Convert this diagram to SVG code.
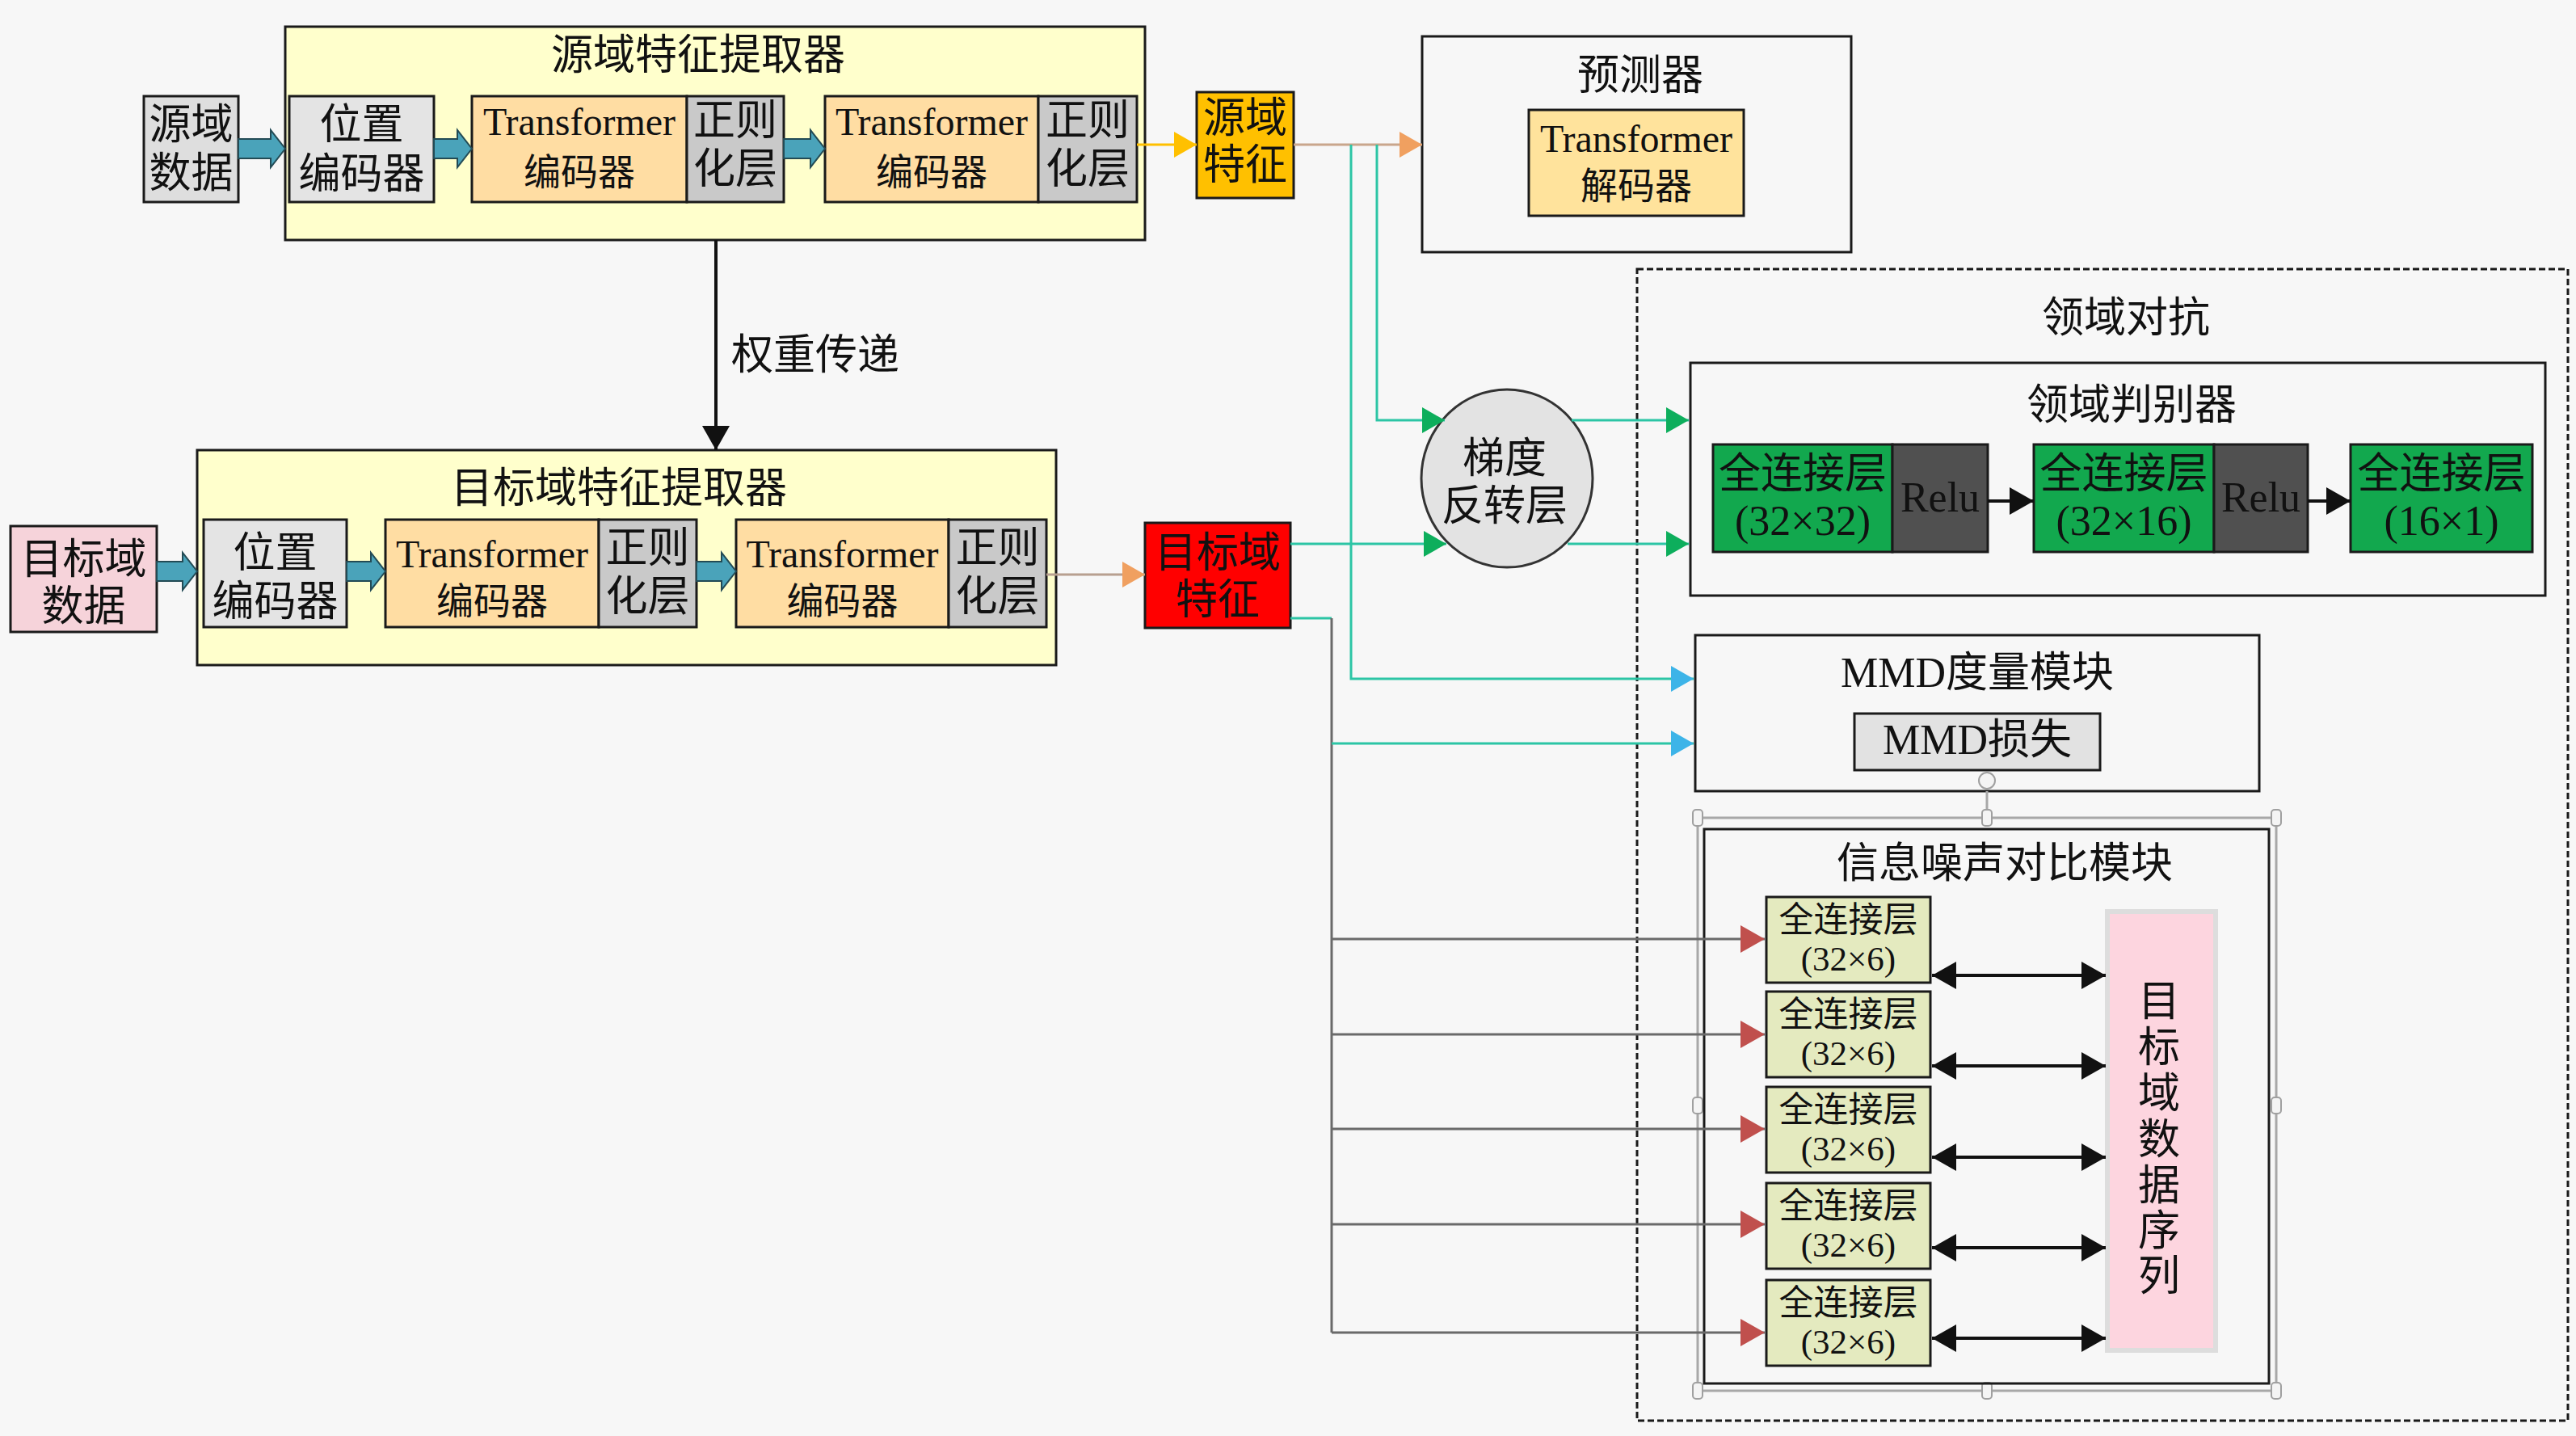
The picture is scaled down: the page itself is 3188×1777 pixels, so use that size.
<svg xmlns="http://www.w3.org/2000/svg" width="3188" height="1777" viewBox="0 0 3188 1777">
<style>
text{font-family:"Liberation Serif","Noto Sans CJK SC",serif;fill:#111;text-anchor:middle}
.f52{font-size:52px}
.f48{font-size:48px}
.f46{font-size:46px}
.f44{font-size:43px}
.box{stroke:#1a1a1a;stroke-width:3}
.panel{fill:#FFFFCC;stroke:#1a1a1a;stroke-width:3}
.grey{fill:#DEDEDE}
.pos{fill:#E4E4E4}
.norm{fill:#C9C9C9}
.enc{fill:#FFDDA3}
.green{fill:#12A84E}
.relu{fill:#505050}
.fc{fill:#E4EABF}
.frame{fill:none;stroke:#1a1a1a;stroke-width:3}
.mint{fill:none;stroke:#2CC5A5;stroke-width:3}
.gline{fill:none;stroke:#6A6A6A;stroke-width:3}
.blk{fill:none;stroke:#111;stroke-width:4}
.block{fill:#4AA3BA;stroke:#234B55;stroke-width:2}
.sel{fill:none;stroke:#A8A8A8;stroke-width:3}
.hdl{fill:#F4F4F4;stroke:#A0A0A0;stroke-width:2}
</style>
<defs>
<marker id="mGreen" markerUnits="userSpaceOnUse" markerWidth="28" markerHeight="32" viewBox="0 0 28 32" refX="28" refY="16" orient="auto"><path d="M0,0 L28,16 L0,32 z" fill="#0DAE5C"/></marker>
<marker id="mBlue" markerUnits="userSpaceOnUse" markerWidth="28" markerHeight="32" viewBox="0 0 28 32" refX="28" refY="16" orient="auto"><path d="M0,0 L28,16 L0,32 z" fill="#3DB4E8"/></marker>
<marker id="mRed" markerUnits="userSpaceOnUse" markerWidth="30" markerHeight="34" viewBox="0 0 30 34" refX="30" refY="17" orient="auto"><path d="M0,0 L30,17 L0,34 z" fill="#C0504D"/></marker>
<marker id="mOrange" markerUnits="userSpaceOnUse" markerWidth="28" markerHeight="32" viewBox="0 0 28 32" refX="28" refY="16" orient="auto"><path d="M0,0 L28,16 L0,32 z" fill="#F0A060"/></marker>
<marker id="mYellow" markerUnits="userSpaceOnUse" markerWidth="28" markerHeight="32" viewBox="0 0 28 32" refX="28" refY="16" orient="auto"><path d="M0,0 L28,16 L0,32 z" fill="#FFC000"/></marker>
<marker id="mBlack" markerUnits="userSpaceOnUse" markerWidth="30" markerHeight="34" viewBox="0 0 30 34" refX="30" refY="17" orient="auto-start-reverse"><path d="M0,0 L30,17 L0,34 z" fill="#111"/></marker>
</defs>
<rect x="0" y="0" width="3188" height="1777" fill="#F7F7F7"/>

<!-- source branch -->
<g id="src-extractor">
<rect class="panel" x="353" y="33" width="1064" height="264"/>
<text class="f52" x="864" y="86">源域特征提取器</text>
</g>
<g id="src-data">
<rect class="box grey" x="178" y="119" width="117" height="131"/>
<text class="f52" x="236.5" y="172">源域</text>
<text class="f52" x="236.5" y="232">数据</text>
</g>
<g id="src-pos">
<rect class="box pos" x="358" y="119" width="179" height="131"/>
<text class="f52" x="447.5" y="172">位置</text>
<text class="f52" x="447.5" y="233">编码器</text>
</g>
<g id="src-enc1">
<rect class="box enc" x="584" y="119" width="266" height="131"/>
<text class="f48" x="717" y="167">Transformer</text>
<text class="f46" x="717" y="229">编码器</text>
</g>
<g id="src-norm1">
<rect class="box norm" x="850" y="119" width="120" height="131"/>
<text class="f52" x="910" y="167">正则</text>
<text class="f52" x="910" y="227">化层</text>
</g>
<g id="src-enc2">
<rect class="box enc" x="1021" y="119" width="264" height="131"/>
<text class="f48" x="1153" y="167">Transformer</text>
<text class="f46" x="1153" y="229">编码器</text>
</g>
<g id="src-norm2">
<rect class="box norm" x="1285" y="119" width="122" height="131"/>
<text class="f52" x="1346" y="167">正则</text>
<text class="f52" x="1346" y="227">化层</text>
</g>
<g id="src-feature">
<rect class="box" fill="#FFC000" x="1481" y="114" width="120" height="131"/>
<text class="f52" x="1541" y="164">源域</text>
<text class="f52" x="1541" y="222">特征</text>
</g>

<!-- target branch -->
<g id="tgt-extractor">
<rect class="panel" x="244" y="557" width="1063" height="266"/>
<text class="f52" x="766" y="622">目标域特征提取器</text>
</g>
<g id="tgt-data">
<rect class="box" fill="#F6D3DA" x="13" y="651" width="181" height="131"/>
<text class="f52" x="103.5" y="710">目标域</text>
<text class="f52" x="103.5" y="768">数据</text>
</g>
<g id="tgt-pos">
<rect class="box pos" x="252" y="643" width="177" height="133"/>
<text class="f52" x="340.5" y="702">位置</text>
<text class="f52" x="340.5" y="762">编码器</text>
</g>
<g id="tgt-enc1">
<rect class="box enc" x="477" y="643" width="264" height="133"/>
<text class="f48" x="609" y="702">Transformer</text>
<text class="f46" x="609" y="760">编码器</text>
</g>
<g id="tgt-norm1">
<rect class="box norm" x="741" y="643" width="121" height="133"/>
<text class="f52" x="801.5" y="696">正则</text>
<text class="f52" x="801.5" y="756">化层</text>
</g>
<g id="tgt-enc2">
<rect class="box enc" x="911" y="643" width="263" height="133"/>
<text class="f48" x="1042.5" y="702">Transformer</text>
<text class="f46" x="1042.5" y="760">编码器</text>
</g>
<g id="tgt-norm2">
<rect class="box norm" x="1174" y="643" width="121" height="133"/>
<text class="f52" x="1234.5" y="696">正则</text>
<text class="f52" x="1234.5" y="756">化层</text>
</g>
<g id="tgt-feature">
<rect class="box" fill="#FF0000" x="1417" y="647" width="180" height="130"/>
<text class="f52" x="1507" y="702">目标域</text>
<text class="f52" x="1507" y="760">特征</text>
</g>

<!-- predictor -->
<g id="predictor">
<rect class="frame" x="1760" y="45" width="531" height="267"/>
<text class="f52" x="2030" y="111">预测器</text>
</g>
<g id="decoder">
<rect class="box" fill="#FFE39C" x="1892" y="136" width="266" height="131"/>
<text class="f48" x="2025" y="188">Transformer</text>
<text class="f46" x="2025" y="246">解码器</text>
</g>

<!-- gradient reversal -->
<g id="grl">
<ellipse cx="1865" cy="592" rx="106" ry="110" fill="#E3E3E3" stroke="#333" stroke-width="3"/>
<text class="f52" x="1862" y="585">梯度</text>
<text class="f52" x="1862" y="644">反转层</text>
</g>

<!-- domain adversarial -->
<g id="domain-adv">
<rect x="2026" y="333" width="1152" height="1425" fill="none" stroke="#1a1a1a" stroke-width="3" stroke-dasharray="8 4"/>
<text class="f52" x="2631" y="411">领域对抗</text>
</g>
<g id="discriminator">
<rect class="frame" x="2092" y="449" width="1058" height="288"/>
<text class="f52" x="2638" y="519">领域判别器</text>
</g>
<g id="fc1">
<rect class="box green" x="2120" y="550" width="222" height="133"/>
<text class="f52" x="2231" y="604">全连接层</text>
<text class="f52" x="2231" y="662">(32×32)</text>
</g>
<g id="relu1">
<rect class="box relu" x="2342" y="550" width="118" height="133"/>
<text class="f52" x="2401" y="633">Relu</text>
</g>
<g id="fc2">
<rect class="box green" x="2517" y="550" width="223" height="133"/>
<text class="f52" x="2628.5" y="604">全连接层</text>
<text class="f52" x="2628.5" y="662">(32×16)</text>
</g>
<g id="relu2">
<rect class="box relu" x="2740" y="550" width="116" height="133"/>
<text class="f52" x="2798" y="633">Relu</text>
</g>
<g id="fc3">
<rect class="box green" x="2909" y="550" width="225" height="133"/>
<text class="f52" x="3021.5" y="604">全连接层</text>
<text class="f52" x="3021.5" y="662">(16×1)</text>
</g>

<!-- MMD -->
<g id="mmd">
<rect class="frame" x="2098" y="786" width="698" height="193"/>
<text class="f52" x="2447" y="850">MMD度量模块</text>
</g>
<g id="mmd-loss">
<rect class="box" fill="#E2E2E2" x="2295" y="883" width="304" height="70"/>
<text class="f52" x="2447" y="933">MMD损失</text>
</g>

<!-- selection handles (editor artifact) -->
<g id="selection">
<line class="sel" x1="2459" y1="979" x2="2459" y2="1012"/>
<circle class="hdl" cx="2459" cy="966" r="10"/>
<rect class="sel" x="2101" y="1012" width="716" height="709"/>
<rect class="hdl" x="2095" y="1002" width="12" height="20" rx="4"/>
<rect class="hdl" x="2453" y="1002" width="12" height="20" rx="4"/>
<rect class="hdl" x="2811" y="1002" width="12" height="20" rx="4"/>
<rect class="hdl" x="2095" y="1358" width="12" height="20" rx="4"/>
<rect class="hdl" x="2811" y="1358" width="12" height="20" rx="4"/>
<rect class="hdl" x="2095" y="1711" width="12" height="20" rx="4"/>
<rect class="hdl" x="2453" y="1711" width="12" height="20" rx="4"/>
<rect class="hdl" x="2811" y="1711" width="12" height="20" rx="4"/>
</g>

<!-- info noise contrast -->
<g id="infonce">
<rect class="frame" x="2109" y="1026" width="699" height="686"/>
<text class="f52" x="2481" y="1086">信息噪声对比模块</text>
</g>
<g id="nce-fc1">
<rect class="box fc" x="2186" y="1110" width="203" height="106"/>
<text class="f44" x="2287.5" y="1153">全连接层</text>
<text class="f44" x="2287.5" y="1201">(32×6)</text>
</g>
<g id="nce-fc2">
<rect class="box fc" x="2186" y="1227" width="203" height="106"/>
<text class="f44" x="2287.5" y="1270">全连接层</text>
<text class="f44" x="2287.5" y="1318">(32×6)</text>
</g>
<g id="nce-fc3">
<rect class="box fc" x="2186" y="1345" width="203" height="106"/>
<text class="f44" x="2287.5" y="1388">全连接层</text>
<text class="f44" x="2287.5" y="1436">(32×6)</text>
</g>
<g id="nce-fc4">
<rect class="box fc" x="2186" y="1464" width="203" height="106"/>
<text class="f44" x="2287.5" y="1507">全连接层</text>
<text class="f44" x="2287.5" y="1555">(32×6)</text>
</g>
<g id="nce-fc5">
<rect class="box fc" x="2186" y="1584" width="203" height="106"/>
<text class="f44" x="2287.5" y="1627">全连接层</text>
<text class="f44" x="2287.5" y="1675">(32×6)</text>
</g>
<g id="tgt-seq">
<rect x="2608" y="1128" width="134" height="543" fill="#FDD5DF" stroke="#DDDDDD" stroke-width="6"/>
<text class="f52" x="2672" y="1257">目</text>
<text class="f52" x="2672" y="1314">标</text>
<text class="f52" x="2672" y="1371">域</text>
<text class="f52" x="2672" y="1428">数</text>
<text class="f52" x="2672" y="1485">据</text>
<text class="f52" x="2672" y="1541">序</text>
<text class="f52" x="2672" y="1597">列</text>
</g>

<!-- connectors -->
<g id="connectors">
<polygon class="block" points="295,172 335,172 335,161 353,184 335,207 335,196 295,196"/>
<polygon class="block" points="537,172 566,172 566,161 584,184 566,207 566,196 537,196"/>
<polygon class="block" points="970,172 1003,172 1003,161 1021,184 1003,207 1003,196 970,196"/>
<polygon class="block" points="194,695 226,695 226,684 244,707 226,730 226,719 194,719"/>
<polygon class="block" points="429,695 459,695 459,684 477,707 459,730 459,719 429,719"/>
<polygon class="block" points="862,695 893,695 893,684 911,707 893,730 893,719 862,719"/>
<line x1="886" y1="297" x2="886" y2="557" stroke="#111" stroke-width="4" marker-end="url(#mBlack)"/>
<text class="f52" x="905" y="457" style="text-anchor:start">权重传递</text>
<line x1="1407" y1="179" x2="1481" y2="179" stroke="#FFC000" stroke-width="3" marker-end="url(#mYellow)"/>
<line x1="1601" y1="179" x2="1760" y2="179" stroke="#C9A68C" stroke-width="3" marker-end="url(#mOrange)"/>
<line x1="1295" y1="711" x2="1417" y2="711" stroke="#B8A090" stroke-width="3" marker-end="url(#mOrange)"/>
<path class="mint" d="M1704,179 V520 H1788" marker-end="url(#mGreen)"/>
<path class="mint" d="M1672,179 V840 H2096" marker-end="url(#mBlue)"/>
<path class="mint" d="M1597,673 H1790" marker-end="url(#mGreen)"/>
<path class="mint" d="M1945,520 H2090" marker-end="url(#mGreen)"/>
<path class="mint" d="M1940,673 H2090" marker-end="url(#mGreen)"/>
<path class="mint" d="M1597,765 H1648"/>
<path class="gline" d="M1648,765 V1649"/>
<path class="mint" d="M1648,920 H2096" marker-end="url(#mBlue)"/>
<path class="gline" d="M1648,1162 H2184" marker-end="url(#mRed)"/>
<path class="gline" d="M1648,1280 H2184" marker-end="url(#mRed)"/>
<path class="gline" d="M1648,1397 H2184" marker-end="url(#mRed)"/>
<path class="gline" d="M1648,1515 H2184" marker-end="url(#mRed)"/>
<path class="gline" d="M1648,1649 H2184" marker-end="url(#mRed)"/>
<path class="blk" d="M2460,620 H2517" marker-end="url(#mBlack)"/>
<path class="blk" d="M2856,620 H2909" marker-end="url(#mBlack)"/>
<path class="blk" d="M2391,1207 H2606" marker-start="url(#mBlack)" marker-end="url(#mBlack)"/>
<path class="blk" d="M2391,1319 H2606" marker-start="url(#mBlack)" marker-end="url(#mBlack)"/>
<path class="blk" d="M2391,1432 H2606" marker-start="url(#mBlack)" marker-end="url(#mBlack)"/>
<path class="blk" d="M2391,1544 H2606" marker-start="url(#mBlack)" marker-end="url(#mBlack)"/>
<path class="blk" d="M2391,1656 H2606" marker-start="url(#mBlack)" marker-end="url(#mBlack)"/>
</g>
</svg>
